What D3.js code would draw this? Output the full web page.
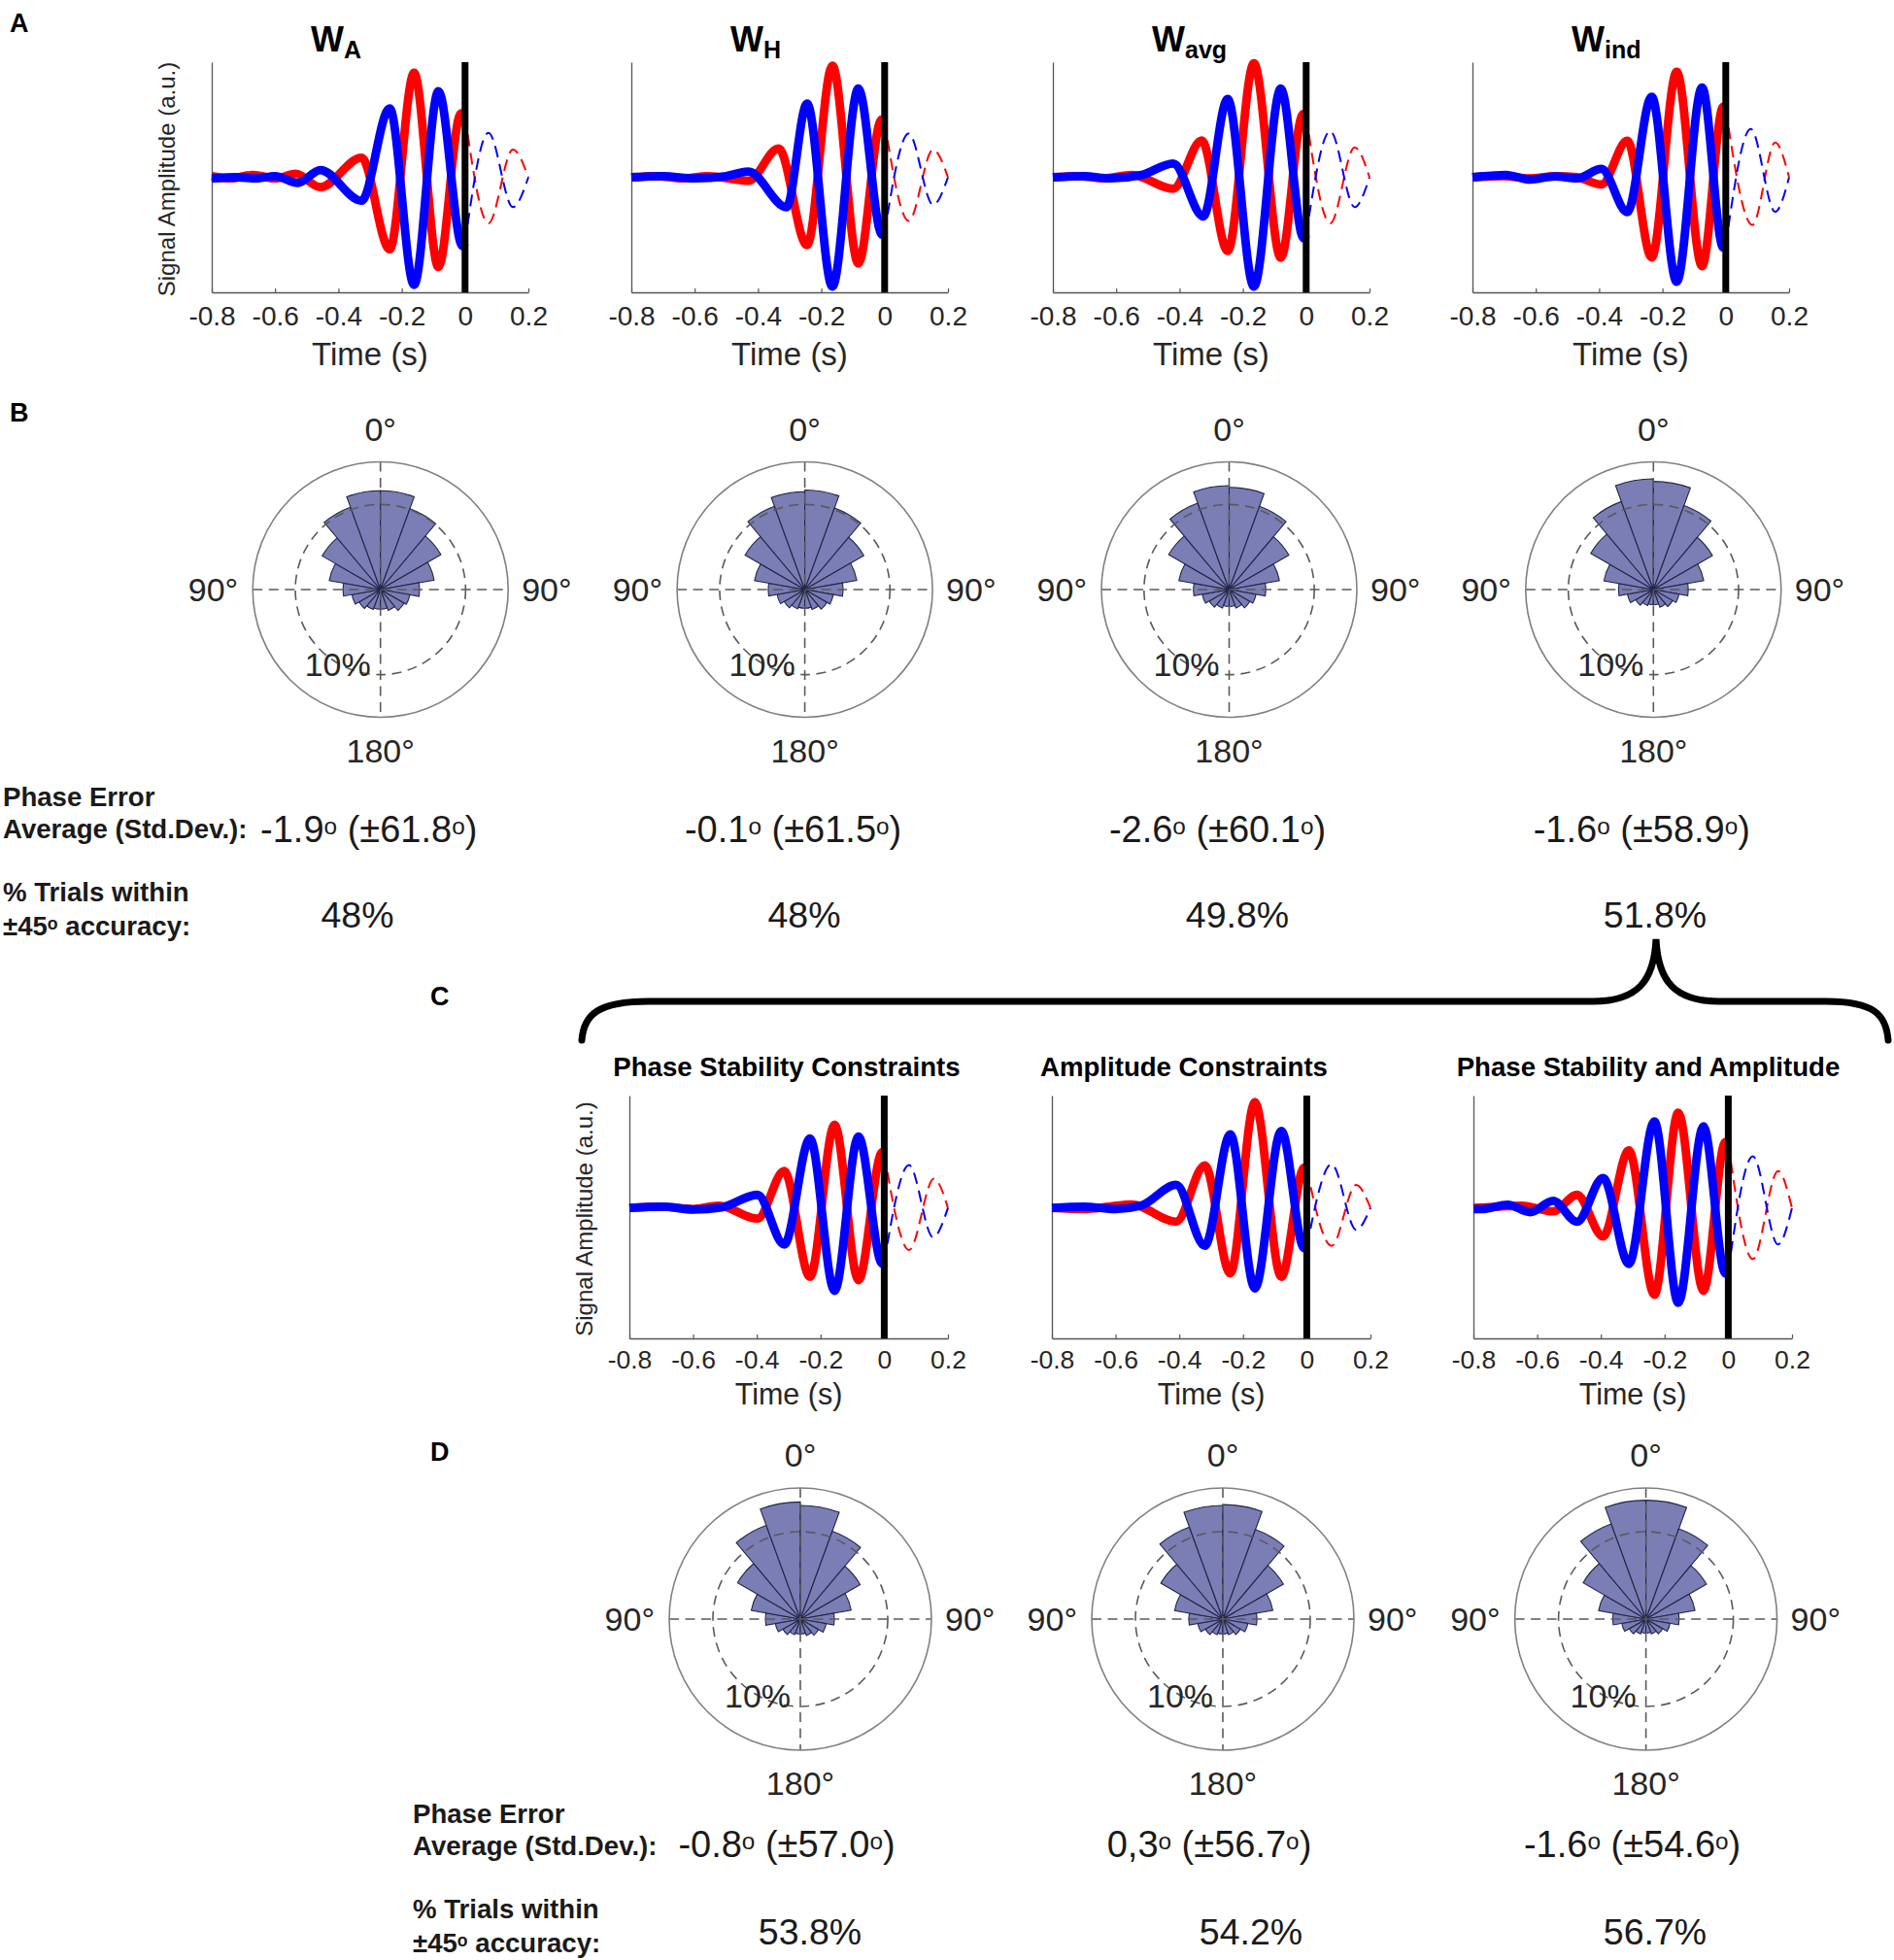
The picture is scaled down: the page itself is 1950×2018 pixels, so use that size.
<!DOCTYPE html>
<html>
<head>
<meta charset="utf-8">
<script src="https://cdn.jsdelivr.net/npm/d3@7"></script>
<style>
  body { margin: 0; background: #fff; }
  text { font-family: "Liberation Sans", Arial, Helvetica, sans-serif; }
</style>
</head>
<body>
<div class="chart"></div>
<script>
/* ---------- data ---------- */

const timeTicks = [-0.8, -0.6, -0.4, -0.2, 0, 0.2];
const tickLabels = ["-0.8", "-0.6", "-0.4", "-0.2", "0", "0.2"];

// waveforms: [time (s), amplitude (a.u.)] at the turning points
const wA_red  = [[-0.8,0.01],[-0.74,-0.01],[-0.67,0.02],[-0.6,-0.01],[-0.535,0.03],[-0.457,-0.086],[-0.327,0.17],[-0.238,-0.626],[-0.161,0.907],[-0.084,-0.78],[-0.013,0.556],[0,0.53],[0.074,-0.40],[0.151,0.24],[0.2,0]];
const wA_blue = [[-0.8,-0.01],[-0.72,0.0],[-0.66,-0.01],[-0.6,0.01],[-0.529,-0.05],[-0.457,0.063],[-0.327,-0.204],[-0.238,0.598],[-0.161,-0.935],[-0.084,0.747],[-0.008,-0.598],[0,-0.57],[0.074,0.387],[0.151,-0.26],[0.2,0]];
const wH_red  = [[-0.8,0],[-0.72,0.01],[-0.64,-0.01],[-0.56,0.01],[-0.43,-0.03],[-0.335,0.25],[-0.245,-0.59],[-0.165,0.97],[-0.083,-0.75],[-0.01,0.5],[0,0.48],[0.076,-0.38],[0.153,0.24],[0.2,0]];
const wH_blue = [[-0.8,0],[-0.7,0.01],[-0.6,-0.01],[-0.5,0.01],[-0.43,0.05],[-0.31,-0.26],[-0.245,0.64],[-0.165,-0.95],[-0.083,0.77],[-0.008,-0.5],[0,-0.48],[0.076,0.38],[0.153,-0.24],[0.2,0]];
const wAvg_red  = [[-0.8,0],[-0.72,0.01],[-0.64,-0.01],[-0.55,0.02],[-0.42,-0.1],[-0.33,0.32],[-0.248,-0.64],[-0.165,0.99],[-0.08,-0.7],[-0.01,0.55],[0,0.53],[0.076,-0.4],[0.153,0.26],[0.2,0]];
const wAvg_blue = [[-0.8,0],[-0.7,0.01],[-0.62,-0.01],[-0.52,0.02],[-0.42,0.12],[-0.325,-0.34],[-0.248,0.68],[-0.165,-0.95],[-0.08,0.77],[-0.008,-0.53],[0,-0.5],[0.076,0.4],[0.153,-0.26],[0.2,0]];
const wInd_red  = [[-0.8,0],[-0.7,0.01],[-0.62,-0.01],[-0.54,0.01],[-0.47,0.0],[-0.393,-0.063],[-0.311,0.317],[-0.234,-0.696],[-0.155,0.916],[-0.075,-0.772],[-0.008,0.612],[0,0.59],[0.084,-0.415],[0.156,0.302],[0.2,0]];
const wInd_blue = [[-0.8,0],[-0.695,0.02],[-0.618,-0.02],[-0.54,0.007],[-0.47,-0.01],[-0.393,0.072],[-0.311,-0.302],[-0.234,0.70],[-0.155,-0.907],[-0.075,0.78],[-0.008,-0.61],[0,-0.59],[0.079,0.42],[0.156,-0.30],[0.2,0]];

const cPhase_red  = [[-0.8,0],[-0.7,0.01],[-0.6,-0.01],[-0.52,0.02],[-0.398,-0.093],[-0.314,0.32],[-0.233,-0.60],[-0.156,0.724],[-0.081,-0.628],[-0.006,0.485],[0,0.47],[0.078,-0.366],[0.156,0.254],[0.2,0]];
const cPhase_blue = [[-0.8,0],[-0.693,0.01],[-0.6,-0.015],[-0.51,0.005],[-0.398,0.113],[-0.314,-0.318],[-0.233,0.603],[-0.156,-0.721],[-0.081,0.62],[-0.006,-0.487],[0,-0.47],[0.078,0.372],[0.153,-0.254],[0.2,0]];
const cAmp_red  = [[-0.8,0],[-0.7,-0.01],[-0.62,0.01],[-0.55,0.03],[-0.41,-0.12],[-0.32,0.37],[-0.24,-0.57],[-0.163,0.92],[-0.08,-0.6],[-0.008,0.35],[0,0.34],[0.078,-0.33],[0.155,0.2],[0.2,0]];
const cAmp_blue = [[-0.8,0],[-0.7,0.01],[-0.6,-0.01],[-0.52,0.02],[-0.41,0.2],[-0.32,-0.33],[-0.24,0.64],[-0.163,-0.7],[-0.08,0.67],[-0.008,-0.35],[0,-0.34],[0.078,0.38],[0.155,-0.19],[0.2,0]];
const cBoth_red  = [[-0.8,0],[-0.72,0.01],[-0.65,0.02],[-0.55,-0.03],[-0.475,0.113],[-0.393,-0.248],[-0.312,0.50],[-0.232,-0.755],[-0.157,0.828],[-0.078,-0.721],[-0.009,0.575],[0,0.56],[0.077,-0.445],[0.156,0.321],[0.2,0]];
const cBoth_blue = [[-0.8,-0.01],[-0.77,-0.01],[-0.693,0.028],[-0.622,-0.037],[-0.55,0.062],[-0.475,-0.12],[-0.393,0.26],[-0.312,-0.487],[-0.232,0.752],[-0.157,-0.825],[-0.078,0.71],[-0.009,-0.572],[0,-0.55],[0.077,0.45],[0.156,-0.318],[0.2,0]];

// rose histograms: 20 degree bins, % of trials
const binStarts = [-180,-160,-140,-120,-100,-80,-60,-40,-20,0,20,40,60,80,100,120,140,160];
const roseWA   = [2.3,2.5,2.9,3.4,4.4,6.1,7.9,10.3,11.6,11.6,10.1,8.2,6.4,4.6,3.5,3.2,2.6,2.3];
const roseWH   = [2.2,2.4,2.8,3.3,4.3,6.0,8.1,10.4,11.5,11.7,10.2,8.0,6.2,4.5,3.4,3.0,2.5,2.2];
const roseWavg = [2.0,2.3,2.7,3.2,4.2,6.0,8.2,10.8,12.2,12.0,10.4,8.1,6.0,4.3,3.2,2.8,2.3,2.0];
const roseWind = [1.8,2.0,2.4,3.1,4.1,5.9,8.5,11.0,13.0,12.7,10.5,8.0,6.0,4.1,3.05,2.6,2.2,1.8];
const rosePhase = [1.7,1.9,2.3,2.9,4.0,5.7,8.3,11.4,13.4,13.0,10.7,7.9,5.9,3.9,3.0,2.4,2.0,1.7];
const roseAmp   = [1.7,1.9,2.3,2.9,3.9,5.6,8.2,11.2,13.0,13.1,10.9,8.0,5.8,3.9,2.9,2.3,1.9,1.7];
const roseBoth  = [1.6,1.8,2.2,2.8,3.8,5.5,8.3,11.6,13.6,13.6,11.0,8.0,5.7,3.8,2.8,2.2,1.8,1.6];

const titlesA = [["W","A"],["W","H"],["W","avg"],["W","ind"]];
const titlesC = ["Phase Stability Constraints", "Amplitude Constraints", "Phase Stability and Amplitude"];
const meanB = ["-1.9", "-0.1", "-2.6", "-1.6"];
const sdB   = ["61.8", "61.5", "60.1", "58.9"];
const accB  = ["48%", "48%", "49.8%", "51.8%"];
const meanD = ["-0.8", "0,3", "-1.6"];
const sdD   = ["57.0", "56.7", "54.6"];
const accD  = ["53.8%", "54.2%", "56.7%"];

/* ---------- layout ---------- */

const svg = d3.select(".chart").append("svg")
  .attr("width", 1950)
  .attr("height", 2018);

const INK = "#1a1a1a";

function supText(g, x, y, str, size, weight, anchor) {
  const t = g.append("text")
    .attr("x", x).attr("y", y)
    .attr("font-size", size)
    .attr("font-weight", weight)
    .attr("text-anchor", anchor)
    .attr("fill", INK);
  const parts = str.split("°");
  let raised = false;
  const lift = size * 0.2;
  parts.forEach((p, i) => {
    if (p.length) {
      const s = t.append("tspan").text(p);
      if (raised) { s.attr("dy", lift); raised = false; }
    }
    if (i < parts.length - 1) {
      t.append("tspan").attr("font-size", size * 0.64).attr("dy", -lift).text("o");
      raised = true;
    }
  });
  return t;
}

function waveChart(c) {
  const g = svg.append("g");
  const x = d3.scaleLinear().domain([-0.8, 0.2]).range([c.left, c.left + c.width]);
  const y = d3.scaleLinear().domain(c.yDomain).range([c.bottom, c.top]);

  const xAxis = d3.axisBottom(x)
    .tickValues(timeTicks)
    .tickFormat((d, i) => tickLabels[i])
    .tickSize(-4)
    .tickSizeOuter(0)
    .tickPadding(c.tickPad);

  const ax = g.append("g")
    .attr("transform", `translate(0,${c.bottom})`)
    .call(xAxis);
  ax.select(".domain").attr("stroke", "#555").attr("stroke-width", 1.3);
  ax.selectAll(".tick line").attr("stroke", "#555").attr("stroke-width", 1.2);
  ax.selectAll(".tick text")
    .attr("font-size", c.tickFont)
    .attr("fill", "#262626")
    .style("font-family", '"Liberation Sans", Arial, sans-serif');

  const ay = g.append("g")
    .attr("transform", `translate(${c.left},0)`)
    .call(d3.axisLeft(y).tickValues([]).tickSizeOuter(0));
  ay.select(".domain").attr("stroke", "#555").attr("stroke-width", 1.3);

  const line = d3.line()
    .x(d => x(d[0]))
    .y(d => y(d[1]))
    .curve(d3.curveMonotoneX);

  [[c.red, "#ff0000"], [c.blue, "#0000ff"]].forEach(([s, col]) => {
    g.append("path")
      .datum(s.filter(d => d[0] >= 0))
      .attr("d", line)
      .attr("fill", "none")
      .attr("stroke", col)
      .attr("stroke-width", 2)
      .attr("stroke-dasharray", "12,7");
  });
  [[c.red, "#ff0000"], [c.blue, "#0000ff"]].forEach(([s, col]) => {
    g.append("path")
      .datum(s.filter(d => d[0] <= 0))
      .attr("d", line)
      .attr("fill", "none")
      .attr("stroke", col)
      .attr("stroke-width", 8.8)
      .attr("stroke-linejoin", "round");
  });

  // onset line at t = 0
  g.append("line")
    .attr("x1", x(0)).attr("x2", x(0))
    .attr("y1", c.top).attr("y2", c.bottom)
    .attr("stroke", "#000")
    .attr("stroke-width", 7);

  g.append("text")
    .attr("x", c.left + c.width / 2)
    .attr("y", c.bottom + c.labelOff)
    .attr("text-anchor", "middle")
    .attr("font-size", c.labelFont)
    .attr("fill", "#262626")
    .text("Time (s)");

  if (c.ylabel) {
    g.append("text")
      .attr("transform", `translate(${c.left - 38},${(c.top + c.bottom) / 2 + 2}) rotate(-90)`)
      .attr("text-anchor", "middle")
      .attr("font-size", 24)
      .attr("fill", "#262626")
      .text("Signal Amplitude  (a.u.)");
  }
}

function rose(c) {
  const g = svg.append("g").attr("transform", `translate(${c.cx},${c.cy})`);
  const r = d3.scaleLinear().domain([0, 15]).range([0, c.R]);
  const rad = Math.PI / 180;
  const arc = d3.arc()
    .innerRadius(0)
    .outerRadius(d => r(d.v))
    .startAngle(d => d.a * rad)
    .endAngle(d => (d.a + 20) * rad);

  g.selectAll("path.bin")
    .data(binStarts.map((a, i) => ({ a: a, v: c.values[i] })))
    .join("path")
    .attr("class", "bin")
    .attr("d", arc)
    .attr("fill", "#7b7eb4")
    .attr("stroke", "#23254a")
    .attr("stroke-width", 1.1);

  const grid = "#5a5a5a";
  g.append("circle")
    .attr("r", r(10))
    .attr("fill", "none")
    .attr("stroke", grid)
    .attr("stroke-width", 1.6)
    .attr("stroke-dasharray", "10,6.5");
  g.append("line")
    .attr("x1", -c.R).attr("x2", c.R)
    .attr("stroke", grid).attr("stroke-width", 1.6).attr("stroke-dasharray", "10,6.5");
  g.append("line")
    .attr("y1", -c.R).attr("y2", c.R)
    .attr("stroke", grid).attr("stroke-width", 1.6).attr("stroke-dasharray", "10,6.5");
  g.append("circle")
    .attr("r", c.R)
    .attr("fill", "none")
    .attr("stroke", "#808080")
    .attr("stroke-width", 1.6);

  const lab = (x, y, t, anchor) => g.append("text")
    .attr("x", x).attr("y", y)
    .attr("text-anchor", anchor)
    .attr("font-size", 34)
    .attr("fill", "#262626")
    .text(t);
  lab(0, -c.R - 22, "0°", "middle");
  lab(0, c.R + 46, "180°", "middle");
  lab(-c.R - 15, 12, "90°", "end");
  lab(c.R + 14, 12, "90°", "start");
  lab(-78, r(10) + 1, "10%", "start");
}

/* ---------- panel A ---------- */
const leftA = [218, 650, 1084, 1516];
const wavesA = [[wA_red, wA_blue], [wH_red, wH_blue], [wAvg_red, wAvg_blue], [wInd_red, wInd_blue]];
leftA.forEach((L, i) => {
  waveChart({
    left: L, width: 326, top: 64, bottom: 301, yDomain: [-1, 1],
    red: wavesA[i][0], blue: wavesA[i][1],
    tickFont: 28, tickPad: 14.5, labelFont: 33, labelOff: 75,
    ylabel: i === 0
  });
  const t = svg.append("text")
    .attr("x", L + 102).attr("y", 53)
    .attr("font-weight", "bold")
    .attr("fill", "#000");
  t.append("tspan").attr("font-size", 36).text(titlesA[i][0]);
  t.append("tspan").attr("font-size", 25).attr("dy", 7).text(titlesA[i][1]);
});

/* ---------- panel B ---------- */
const centersB = [391.7, 828.6, 1265.5, 1702.3];
const rosesB = [roseWA, roseWH, roseWavg, roseWind];
centersB.forEach((cx, i) => rose({ cx: cx, cy: 607, R: 131.5, values: rosesB[i] }));

const labelSize = 27.6;
function rowLabels(x, y0) {
  const g = svg.append("g");
  supText(g, x, y0, "Phase Error", labelSize, "bold", "start");
  supText(g, x, y0 + 33, "Average (Std.Dev.):", labelSize, "bold", "start");
  supText(g, x, y0 + 98, "%  Trials within", labelSize, "bold", "start");
  supText(g, x, y0 + 133, "±45° accuracy:", labelSize, "bold", "start");
}
rowLabels(3, 830);
const accXB = [368, 828, 1274, 1704];
centersB.forEach((cx, i) => {
  supText(svg, cx - 12, 867, `${meanB[i]}° (±${sdB[i]}°)`, 38, "normal", "middle");
  supText(svg, accXB[i], 955, accB[i], 37.5, "normal", "middle");
});

/* ---------- panel C ---------- */
const leftC = [648, 1083, 1517];
const wavesC = [[cPhase_red, cPhase_blue], [cAmp_red, cAmp_blue], [cBoth_red, cBoth_blue]];
const titleXC = [810, 1219, 1697];
leftC.forEach((L, i) => {
  waveChart({
    left: L, width: 328, top: 1128, bottom: 1378, yDomain: [-1.135, 0.977],
    red: wavesC[i][0], blue: wavesC[i][1],
    tickFont: 26.5, tickPad: 12.5, labelFont: 30.5, labelOff: 68,
    ylabel: i === 0
  });
  svg.append("text")
    .attr("x", titleXC[i]).attr("y", 1108)
    .attr("text-anchor", "middle")
    .attr("font-size", 27.6)
    .attr("font-weight", "bold")
    .attr("fill", "#000")
    .text(titlesC[i]);
});

// brace joining W_ind to panel C
svg.append("path")
  .attr("d", "M599,1071 C601,1045 615,1031 668,1031 L1640,1031 C1686,1031 1703,1010 1705,967 C1707,1010 1724,1031 1770,1031 L1880,1031 C1930,1031 1942,1045 1944,1071")
  .attr("fill", "none")
  .attr("stroke", "#000")
  .attr("stroke-width", 7)
  .attr("stroke-linecap", "round");

/* ---------- panel D ---------- */
const centersD = [824, 1259, 1694.6];
const rosesD = [rosePhase, roseAmp, roseBoth];
centersD.forEach((cx, i) => rose({ cx: cx, cy: 1667, R: 135, values: rosesD[i] }));
rowLabels(425, 1877);
const accXD = [834, 1288, 1704];
centersD.forEach((cx, i) => {
  supText(svg, cx - 14, 1912, `${meanD[i]}° (±${sdD[i]}°)`, 38, "normal", "middle");
  supText(svg, accXD[i], 2002, accD[i], 37.5, "normal", "middle");
});

/* ---------- panel letters ---------- */
[["A", 10, 33], ["B", 10, 434], ["C", 443, 1035], ["D", 443, 1504]].forEach(([t, x, y]) => {
  svg.append("text")
    .attr("x", x).attr("y", y)
    .attr("font-size", 27)
    .attr("font-weight", "bold")
    .attr("fill", "#000")
    .text(t);
});
</script>
</body>
</html>
